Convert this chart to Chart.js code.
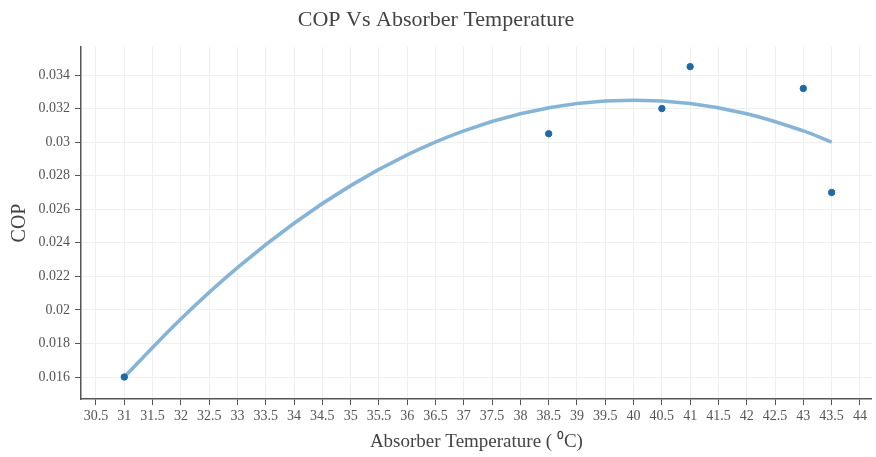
<!DOCTYPE html>
<html>
<head>
<meta charset="utf-8">
<script src="https://cdn.jsdelivr.net/npm/chart.js@4"></script>
<style>
  html, body { margin: 0; padding: 0; background: #fff; }
  #wrap { width: 876px; height: 457px; }
</style>
</head>
<body>
<div id="wrap"><canvas id="chart"></canvas></div>
<script>
// measured points
const tempPoints = [31, 38.5, 40.5, 41, 43, 43.5];
const copPoints = [0.016, 0.0305, 0.032, 0.0345, 0.0332, 0.027];

// fitted trend line
const trendTemps = [31, 32, 33, 34, 35, 36, 37, 38, 39, 40, 41, 42, 43, 43.5];
const trendCop = [0.0160, 0.01946, 0.02252, 0.02517, 0.02741, 0.02924, 0.03067,
                  0.03169, 0.03230, 0.03250, 0.03230, 0.03169, 0.03067, 0.0300];

const serif = 'Liberation Serif';

document.addEventListener('DOMContentLoaded', () => {
    const ctx = document.getElementById('chart').getContext('2d');
    new Chart(ctx, {
        type: 'scatter',
        data: {
            datasets: [{
                label: 'COP',
                data: tempPoints.map((t, i) => ({ x: t, y: copPoints[i] })),
                backgroundColor: '#1f6aa5',
                borderColor: '#1f6aa5',
                pointRadius: 3.2,
                pointHoverRadius: 3.2
            }, {
                label: 'Fit',
                type: 'line',
                data: trendTemps.map((t, i) => ({ x: t, y: trendCop[i] })),
                borderColor: 'rgba(128,176,212,0.95)',
                borderWidth: 3.6,
                pointRadius: 0,
                tension: 0.4,
                fill: false
            }]
        },
        options: {
            responsive: true,
            maintainAspectRatio: false,
            animation: false,
            layout: { padding: { left: 0, right: 4, top: 0, bottom: 0 } },
            plugins: {
                legend: { display: false },
                tooltip: { enabled: false },
                title: {
                    display: true,
                    text: 'COP Vs Absorber Temperature',
                    color: '#444',
                    font: { family: serif, size: 22, weight: 'normal' },
                    padding: { top: 7, bottom: 13.6 }
                }
            },
            scales: {
                x: {
                    type: 'linear',
                    min: 30.235,
                    max: 44.21,
                    afterFit: s => { s.height = 58; },
                    border: { color: '#555', width: 1.5 },
                    grid: { color: '#efefef', tickColor: '#555', tickLength: 6 },
                    ticks: {
                        stepSize: 0.5,
                        includeBounds: false,
                        autoSkip: false,
                        maxRotation: 0,
                        padding: 3,
                        color: '#555',
                        font: { family: serif, size: 14 },
                        callback: v => String(Number(v.toFixed(1)))
                    },
                    title: {
                        display: true,
                        text: 'Absorber Temperature ( \u2070C)',
                        color: '#444',
                        font: { family: serif, size: 19 },
                        padding: { top: 2, bottom: 4 }
                    }
                },
                y: {
                    min: 0.01469,
                    max: 0.03567,
                    afterFit: s => { s.width = 81; },
                    border: { color: '#555', width: 1.5 },
                    grid: { color: '#efefef', tickColor: '#555', tickLength: 6 },
                    ticks: {
                        stepSize: 0.002,
                        includeBounds: false,
                        padding: 5,
                        color: '#555',
                        font: { family: serif, size: 14 },
                        callback: v => String(Number(v.toFixed(3)))
                    },
                    title: {
                        display: true,
                        text: 'COP',
                        color: '#444',
                        font: { family: serif, size: 20 },
                        padding: { top: 8, bottom: 4 }
                    }
                }
            }
        }
    });
});
</script>
</body>
</html>
